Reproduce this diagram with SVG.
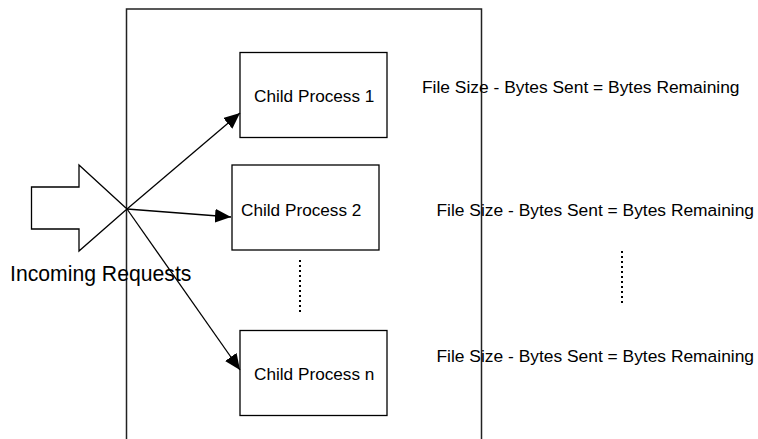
<svg xmlns="http://www.w3.org/2000/svg" width="758" height="439" viewBox="0 0 758 439">
<style>
  .box{fill:#fff;stroke:#000;stroke-width:1.3}
  .lbl{font-family:"Liberation Sans",Arial,sans-serif;font-size:17.2px;fill:#000}
  .eq{font-family:"Liberation Sans",Arial,sans-serif;font-size:17.4px;fill:#000}
  .con{stroke:#000;stroke-width:1.3;fill:none}
  .dot{stroke:#000;stroke-width:2;stroke-dasharray:2 3;fill:none}
</style>
<defs>
  <marker id="ah" markerUnits="userSpaceOnUse" markerWidth="18" markerHeight="14" refX="16" refY="7" orient="auto">
    <path d="M0,0 L16,7 L0,14 Z" fill="#000"/>
  </marker>
</defs>
<rect width="758" height="439" fill="#fff"/>
<g id="server">
  <path d="M126.5,439 V9 H481.5 V439" fill="none" stroke="#222" stroke-width="1.5"/>
</g>
<g id="incoming">
  <path d="M31.5,187 H79 V165 L127,209 L79,251 V229 H31.5 Z" fill="#fff" stroke="#000" stroke-width="1.3"/>
  <text class="lbl" x="10" y="281" style="font-size:21.2px">Incoming Requests</text>
</g>
<g id="child1">
  <rect class="box" x="240" y="52.5" width="147" height="85"/>
  <text class="lbl" x="254" y="102">Child Process 1</text>
</g>
<g id="child2">
  <rect class="box" x="232" y="165" width="147" height="85"/>
  <text class="lbl" x="241" y="216">Child Process 2</text>
</g>
<g id="childn">
  <rect class="box" x="240" y="330.5" width="147" height="85"/>
  <text class="lbl" x="254" y="380">Child Process n</text>
</g>
<g id="connectors">
  <line class="con" x1="127" y1="209" x2="240" y2="113" marker-end="url(#ah)"/>
  <line class="con" x1="127" y1="209" x2="231" y2="217" marker-end="url(#ah)"/>
  <line class="con" x1="127" y1="209" x2="240" y2="370" marker-end="url(#ah)"/>
</g>
<g id="dots">
  <line class="dot" x1="300" y1="260" x2="300" y2="313"/>
  <line class="dot" x1="622" y1="251" x2="622" y2="304"/>
</g>
<g id="equations">
  <text class="eq" x="422" y="93">File Size - Bytes Sent = Bytes Remaining</text>
  <text class="eq" x="436.5" y="216">File Size - Bytes Sent = Bytes Remaining</text>
  <text class="eq" x="436.5" y="362">File Size - Bytes Sent = Bytes Remaining</text>
</g>
</svg>
